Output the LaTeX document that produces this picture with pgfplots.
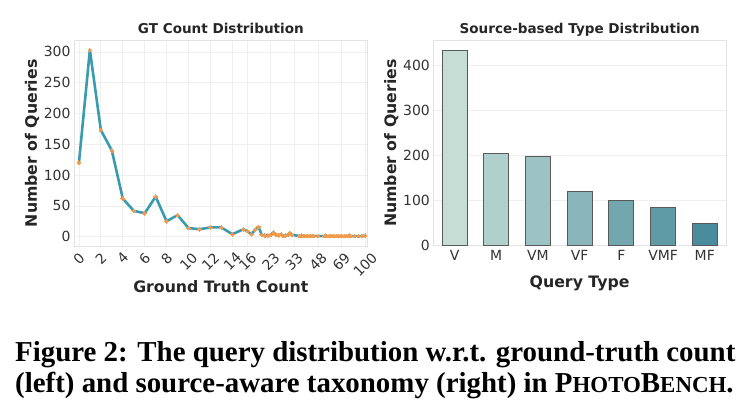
\documentclass[border=0pt]{standalone}
\usepackage{pgfplots}
\pgfplotsset{compat=1.18}
\usepackage{graphicx}
\usepackage{fontspec}
\setmainfont{DejaVu Sans}
\newfontfamily\capfont{Liberation Serif}

\definecolor{linecol}{HTML}{3A9AB0}
\definecolor{markcol}{HTML}{F39B4C}
\definecolor{txt}{HTML}{262626}
\definecolor{tick}{HTML}{333333}
\definecolor{frame}{HTML}{E3E3E3}
\definecolor{gridc}{HTML}{EFEFEF}
\definecolor{barV}{RGB}{197,221,213}
\definecolor{barM}{RGB}{176,208,204}
\definecolor{barVM}{RGB}{156,194,195}
\definecolor{barVF}{RGB}{136,181,185}
\definecolor{barF}{RGB}{115,167,176}
\definecolor{barVMF}{RGB}{95,154,167}
\definecolor{barMF}{RGB}{74,140,158}

\pgfplotsset{
  common/.style={
    scale only axis,
    axis line style={draw=frame, line width=0.9bp},
    tick style={draw=none},
    major tick length=0pt,
    /pgf/number format/assume math mode=true,
    tick label style={font=\fontsize{14}{16}\selectfont, text=tick},
    title style={font=\bfseries\fontsize{13.6}{16}\selectfont, text=txt,
      at={(0.5,1)}, anchor=base, yshift=1bp},
    every axis y label/.style={at={(rel axis cs:0,0.5)}, xshift=-42bp,
      rotate=90, anchor=center},
    every axis x label/.style={at={(rel axis cs:0.5,0)}, yshift=-41bp,
      anchor=center},
    ylabel style={font=\bfseries\fontsize{15.8}{18}\selectfont, text=txt},
    xlabel style={font=\bfseries\fontsize{15.8}{18}\selectfont, text=txt},
    major grid style={draw=gridc, line width=0.7bp},
  },
}

\begin{document}
\begin{tikzpicture}
\useasboundingbox (0bp,0bp) rectangle (752bp,-409bp);

% Left panel: how many ground-truth items each query has (symlog x scale, linthresh 15)
\begin{axis}[common,
  at={(74bp,-246bp)}, anchor=south west,
  width=293.7bp, height=205.3bp,
  title={GT Count Distribution},
  xlabel={Ground Truth Count},
  ylabel={Number of Queries},
  x coord trafo/.code={\pgfmathparse{(#1<=15) ? (#1) : (15+13.5*log10(max(#1,15)/15))}},
  xmin=-0.45, xmax=104,
  ymin=-15.15, ymax=318.15,
  ytick={0,50,100,150,200,250,300},
  xtick={0,2,4,6,8,10,12,14,16,23,33,48,69,100},
  xticklabels={\rotatebox{45}{0},\rotatebox{45}{2},\rotatebox{45}{4},\rotatebox{45}{6},
    \rotatebox{45}{8},\rotatebox{45}{10},\rotatebox{45}{12},\rotatebox{45}{14},
    \rotatebox{45}{16},\rotatebox{45}{23},\rotatebox{45}{33},\rotatebox{45}{48},
    \rotatebox{45}{69},\rotatebox{45}{100}},
  x tick label style={anchor=north, yshift=-2bp},
  xmajorgrids, ymajorgrids,
]
\addplot[linecol, line width=2.6bp, line join=round,
  mark=*, mark size=1.8bp, mark options={draw=markcol, fill=markcol, line width=0pt}]
coordinates {
(0,120) (1,303) (2,173) (3,140) (4,62) (5,42) (6,38) (7,65) (8,25) (9,35)
(10,14) (11,12) (12,15) (13,15) (14,4) (15,12) (16,9) (17,4) (18,11) (19,16)
(20,3) (21,2) (22,2) (23,3) (24,7) (25,3) (26,2) (27,4) (28,1) (29,2)
(30,3) (31,6) (32,3) (36,1) (37,2) (38,1) (39,1) (40,1) (41,1) (42,1)
(43,1) (44,1) (45,1) (48,1) (53,1) (54,2) (55,1) (57,1) (58,1) (60,1)
(62,1) (64,1) (66,1) (68,1) (69,1) (72,1) (75,1) (78,2) (80,1) (85,1)
(90,1) (95,1) (100,2)
};
\end{axis}

% Right panel: queries per source-based type
\begin{axis}[common,
  at={(433.3bp,-245.7bp)}, anchor=south west,
  width=292.7bp, height=205bp,
  title={Source-based Type Distribution},
  xlabel={Query Type},
  ylabel={Number of Queries},
  xlabel style={yshift=3bp},
  xmin=-0.51, xmax=6.51,
  ymin=0, ymax=455,
  ytick={0,100,200,300,400},
  xtick={0,1,2,3,4,5,6},
  xticklabels={V,M,VM,VF,F,VMF,MF},
  x tick label style={yshift=-1bp},
  ymajorgrids,
  ybar, bar width=0.6, bar shift=0pt,
]
\addplot[fill=barV, draw=black!65, line width=1.1bp] coordinates {(0,433)};
\addplot[fill=barM, draw=black!65, line width=1.1bp] coordinates {(1,205)};
\addplot[fill=barVM, draw=black!65, line width=1.1bp] coordinates {(2,198)};
\addplot[fill=barVF, draw=black!65, line width=1.1bp] coordinates {(3,121)};
\addplot[fill=barF, draw=black!65, line width=1.1bp] coordinates {(4,100)};
\addplot[fill=barVMF, draw=black!65, line width=1.1bp] coordinates {(5,85)};
\addplot[fill=barMF, draw=black!65, line width=1.1bp] coordinates {(6,49)};
\end{axis}

% Caption
\node[anchor=base west, inner sep=0pt, font=\capfont\bfseries\fontsize{29}{34}\selectfont]
  at (15bp,-361bp) {Figure 2: The query distribution w.r.t. ground-truth count};
\node[anchor=base west, inner sep=0pt, font=\capfont\bfseries\fontsize{29}{34}\selectfont]
  at (15bp,-392bp) {(left) and source-aware taxonomy (right) in P{\fontsize{23}{26}\selectfont HOTO}B{\fontsize{23}{26}\selectfont ENCH}.};
\end{tikzpicture}
\end{document}
